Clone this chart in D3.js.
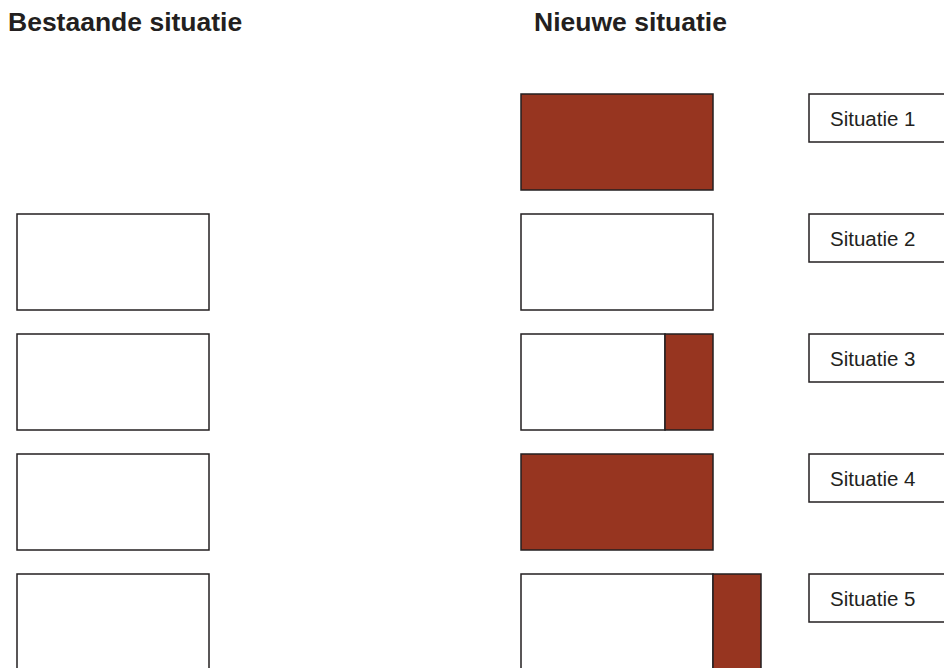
<!DOCTYPE html>
<html lang="nl">
<head>
    <meta charset="UTF-8">
    <title>Bestaande en nieuwe situatie</title>
    <script src="https://d3js.org/d3.v7.min.js"></script>
    <style>
        body { margin: 0; background: #fff; }
        svg { display: block; font-family: "Liberation Sans", Arial, Helvetica, sans-serif; }
    </style>
</head>
<body>
    <svg width="944" height="668"></svg>

    <script>
        // data
        const situaties = ["Situatie 1", "Situatie 2", "Situatie 3", "Situatie 4", "Situatie 5"];
        const bestaand = [0, 1, 1, 1, 1];        // bestaande (witte) oppervlakte
        const nieuwWit = [0, 1, 0.75, 0, 1];     // behouden deel in nieuwe situatie
        const nieuwRood = [1, 0, 0.25, 1, 0.25]; // nieuw toegevoegd deel
        const titels = ["Bestaande situatie", "Nieuwe situatie"];

        const rood = "#973520";
        const lijn = "#231f20";

        let svg = d3.select("svg");

        // scales
        const y = d3.scaleBand()
            .domain(situaties)
            .range([94, 670])
            .paddingInner(0.2)
            .paddingOuter(0);

        const w = d3.scaleLinear().domain([0, 1]).range([0, 192]);

        const xLinks = 17, xRechts = 521, xLabel = 809;

        // titles
        svg.selectAll(".titel")
            .data(titels)
            .enter()
            .append("text")
            .attr("class", "titel")
            .attr("x", (d, i) => i === 0 ? 8 : 534)
            .attr("y", 30.5)
            .attr("font-size", "26.5px")
            .attr("font-weight", "bold")
            .attr("fill", lijn)
            .text(d => d);

        const rijen = situaties.map((s, i) => ({
            naam: s,
            bestaand: bestaand[i],
            wit: nieuwWit[i],
            rood: nieuwRood[i]
        }));

        const g = svg.selectAll(".rij")
            .data(rijen)
            .enter()
            .append("g")
            .attr("class", "rij")
            .attr("transform", d => `translate(0,${y(d.naam)})`);

        // existing situation
        g.filter(d => d.bestaand > 0)
            .append("rect")
            .attr("x", xLinks)
            .attr("y", 0)
            .attr("width", d => w(d.bestaand))
            .attr("height", y.bandwidth())
            .attr("fill", "#fff")
            .attr("stroke", lijn)
            .attr("stroke-width", 1.5);

        // new situation: white part
        g.filter(d => d.wit > 0)
            .append("rect")
            .attr("x", xRechts)
            .attr("y", 0)
            .attr("width", d => w(d.wit))
            .attr("height", y.bandwidth())
            .attr("fill", "#fff")
            .attr("stroke", lijn)
            .attr("stroke-width", 1.5);

        // new situation: red part
        g.filter(d => d.rood > 0)
            .append("rect")
            .attr("x", d => xRechts + w(d.wit))
            .attr("y", 0)
            .attr("width", d => w(d.rood))
            .attr("height", y.bandwidth())
            .attr("fill", rood)
            .attr("stroke", lijn)
            .attr("stroke-width", 1.5);

        // labels
        g.append("rect")
            .attr("x", xLabel)
            .attr("y", 0)
            .attr("width", 160)
            .attr("height", y.bandwidth() / 2)
            .attr("fill", "#fff")
            .attr("stroke", lijn)
            .attr("stroke-width", 1.5);

        g.append("text")
            .attr("x", xLabel + 21)
            .attr("y", 32)
            .attr("font-size", "20.5px")
            .attr("fill", lijn)
            .text(d => d.naam);
    </script>
</body>
</html>
